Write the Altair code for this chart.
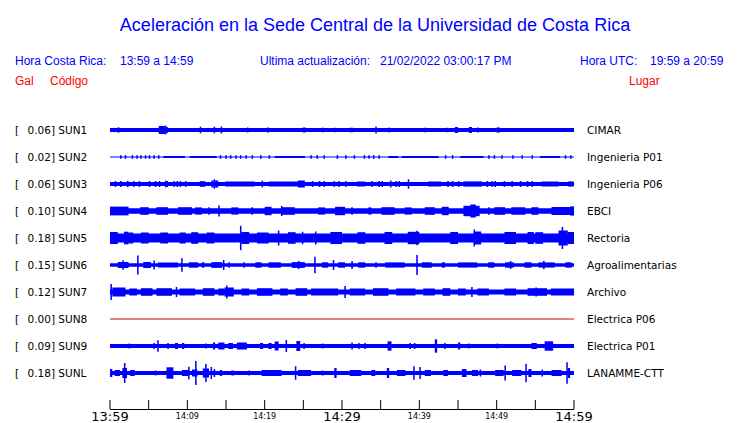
import altair as alt
import pandas as pd

# ---------------- data ----------------
codes = ["SUN1", "SUN2", "SUN3", "SUN4", "SUN5", "SUN6", "SUN7", "SUN8", "SUN9", "SUNL"]
gal = ["0.06", "0.02", "0.06", "0.10", "0.18", "0.15", "0.12", "0.00", "0.09", "0.18"]
places = ["CIMAR", "Ingenieria P01", "Ingenieria P06", "EBCI", "Rectoria",
          "Agroalimentarias", "Archivo", "Electrica P06", "Electrica P01", "LANAMME-CTT"]
# background noise half-amplitude of each trace (display units)
noise = [2.0, 0.5, 2.0, 2.8, 4.5, 1.8, 2.4, 0.5, 2.0, 2.0]
trace_color = ["#0000ff"] * 7 + ["#d00000"] + ["#0000ff"] * 2

# bursts: (start minute, end minute, half-amplitude)
sun1 = [(1.0, 1.2, 2.8), (6.3, 7.0, 4.0), (7.0, 7.3, 4.3), (7.3, 7.5, 3.0), (11.6, 11.8, 3.3),
        (13.4, 13.6, 3.3), (14.3, 14.5, 3.5), (17.7, 17.9, 2.5), (20.3, 20.5, 2.6), (24.9, 25.3, 2.5),
        (27.4, 27.6, 2.4), (29.0, 29.2, 2.3), (31.0, 31.4, 2.3), (34.3, 34.5, 3.6), (36.0, 36.2, 2.4),
        (40.7, 40.9, 2.4), (43.5, 43.7, 2.3), (44.6, 45.0, 3.0), (46.4, 46.8, 3.0), (47.5, 47.7, 2.4),
        (50.0, 50.4, 2.6)]
sun2 = [(1.3, 1.5, 1.8), (1.9, 2.1, 1.8), (2.8, 3.0, 1.8), (3.4, 3.6, 1.8), (3.9, 4.1, 1.8),
        (4.5, 4.7, 1.8), (5.0, 5.2, 1.8), (5.6, 5.8, 1.8), (6.2, 6.4, 1.8), (6.9, 9.7, 1.0),
        (10.3, 13.8, 1.0), (14.2, 14.4, 1.8), (14.9, 15.1, 1.8), (15.5, 15.7, 1.8), (16.2, 16.4, 1.8),
        (16.8, 17.0, 1.8), (17.5, 17.7, 1.8), (18.3, 18.5, 1.8), (19.4, 19.6, 1.8), (20.5, 20.7, 1.8),
        (21.3, 25.2, 1.0), (25.9, 26.1, 1.8), (26.7, 26.9, 1.8), (27.6, 27.8, 1.8), (29.3, 29.5, 1.8),
        (30.4, 30.6, 1.8), (31.5, 31.7, 1.8), (32.8, 33.0, 1.8), (33.4, 33.6, 1.8), (34.0, 34.2, 1.8),
        (34.7, 34.9, 1.8), (36.0, 37.3, 1.0), (37.7, 42.5, 1.0), (43.3, 43.5, 1.8), (44.2, 44.4, 1.8),
        (45.3, 48.3, 1.0), (48.9, 49.1, 1.8), (49.6, 49.8, 1.8), (50.6, 50.8, 1.8), (52.0, 52.2, 1.8),
        (53.2, 53.4, 1.8), (54.5, 54.7, 1.8), (55.6, 58.2, 1.0), (58.8, 59.0, 1.8), (59.5, 59.7, 1.8)]
sun3 = [(0.6, 0.8, 3.0), (1.3, 1.5, 3.0), (2.2, 2.4, 3.3), (3.0, 3.2, 3.0), (3.7, 3.9, 3.0),
        (5.0, 5.2, 3.0), (5.8, 6.0, 3.0), (6.3, 6.5, 3.0), (7.1, 7.3, 3.5), (7.3, 7.5, 3.0),
        (8.2, 8.4, 3.0), (8.6, 8.8, 3.0), (9.0, 9.2, 3.0), (9.7, 9.9, 3.0), (11.6, 12.3, 2.8),
        (13.1, 13.4, 3.5), (13.4, 13.6, 4.7), (13.6, 14.0, 3.5), (14.9, 18.7, 2.5), (19.6, 19.8, 3.3),
        (20.5, 25.2, 2.5), (24.3, 25.2, 3.5), (26.1, 26.3, 3.0), (27.0, 27.2, 3.0), (27.6, 27.8, 3.0),
        (28.9, 29.1, 3.0), (29.5, 29.7, 3.0), (30.4, 30.6, 3.0), (31.9, 33.0, 2.5), (33.8, 34.0, 3.0),
        (34.7, 34.9, 3.0), (35.1, 35.3, 3.0), (36.2, 36.4, 3.5), (36.9, 37.1, 3.0), (37.3, 37.5, 3.0),
        (38.5, 38.7, 4.7), (41.1, 42.8, 2.5), (43.6, 43.8, 3.0), (44.2, 44.4, 3.0), (45.0, 45.2, 3.0),
        (45.7, 48.1, 2.6), (48.7, 48.9, 3.0), (49.3, 49.5, 3.0), (49.7, 49.9, 3.0), (50.9, 51.1, 3.0),
        (51.9, 52.1, 3.0), (53.0, 53.2, 3.0), (53.9, 54.1, 3.0), (54.5, 54.7, 3.0), (55.8, 58.0, 2.5),
        (59.2, 59.9, 2.6)]
sun4 = [(0.0, 2.4, 4.4), (3.9, 5.0, 3.8), (6.0, 7.5, 3.8), (8.8, 10.6, 3.8), (11.0, 11.9, 3.6),
        (12.7, 12.9, 3.8), (14.0, 14.2, 5.4), (15.7, 16.6, 3.6), (18.3, 18.5, 3.8), (20.0, 20.9, 4.2),
        (22.1, 22.3, 5.0), (22.2, 23.9, 3.8), (26.9, 27.8, 3.6), (29.1, 30.4, 4.2), (31.2, 31.4, 3.8),
        (33.4, 33.8, 3.6), (35.1, 36.8, 3.8), (38.1, 39.0, 3.6), (40.7, 42.0, 3.8), (42.9, 43.8, 4.2),
        (45.7, 47.8, 5.2), (46.6, 47.3, 6.5), (48.9, 49.1, 3.8), (49.7, 51.1, 3.8), (51.9, 53.7, 3.8),
        (54.5, 55.4, 3.8), (57.1, 59.7, 4.0), (59.5, 60.0, 4.6)]
sun5 = [(0.0, 1.0, 6.0), (1.8, 2.4, 6.3), (2.4, 3.0, 5.5), (4.0, 5.0, 5.5), (6.5, 7.5, 5.5),
        (9.0, 9.8, 5.5), (10.5, 11.4, 5.8), (12.5, 13.5, 5.5), (16.8, 17.0, 12.2), (17.0, 18.0, 6.0),
        (19.0, 20.5, 5.5), (21.7, 21.9, 7.5), (23.0, 24.0, 5.8), (24.8, 25.0, 6.2), (26.5, 26.7, 6.5),
        (28.5, 30.0, 6.0), (32.0, 33.0, 5.8), (35.5, 36.5, 6.0), (38.5, 40.0, 6.2), (39.6, 39.8, 7.2),
        (44.0, 45.0, 6.0), (47.0, 47.2, 8.5), (47.2, 48.0, 6.5), (51.0, 52.5, 6.0), (54.0, 54.8, 6.0),
        (55.0, 56.0, 5.8), (58.0, 59.2, 7.5), (58.4, 58.6, 11.0), (59.2, 60.0, 6.0)]
sun6 = [(1.0, 2.4, 3.0), (1.6, 1.8, 4.7), (3.5, 3.7, 9.5), (4.3, 5.3, 3.0), (5.6, 5.8, 4.5),
        (6.2, 8.8, 2.6), (9.2, 9.4, 6.7), (10.2, 11.4, 2.7), (11.9, 12.2, 2.7), (13.1, 14.5, 2.9),
        (14.6, 14.8, 5.0), (15.3, 15.5, 2.7), (17.2, 17.4, 2.7), (18.8, 19.6, 2.7), (20.5, 22.1, 2.7),
        (23.5, 25.2, 2.9), (24.3, 24.5, 4.0), (26.4, 26.6, 8.3), (27.4, 28.2, 2.7), (28.8, 29.0, 5.0),
        (29.5, 30.4, 2.7), (31.2, 31.4, 4.0), (32.1, 33.0, 2.7), (34.3, 34.5, 2.7), (35.6, 38.1, 2.6),
        (39.6, 39.8, 10.0), (40.3, 41.6, 2.7), (42.9, 43.3, 2.7), (45.0, 47.5, 2.6), (48.9, 49.7, 2.7),
        (51.1, 52.2, 2.7), (51.7, 51.9, 4.0), (53.6, 54.5, 2.7), (55.4, 57.5, 2.6), (56.0, 56.2, 4.3),
        (58.9, 59.7, 2.7)]
sun7 = [(0.05, 0.25, 8.0), (0.3, 2.0, 4.5), (2.5, 3.5, 3.5), (4.0, 5.5, 3.8), (6.0, 8.0, 3.8),
        (8.5, 8.7, 5.0), (9.0, 11.0, 3.5), (12.0, 13.5, 3.8), (14.0, 14.8, 3.5), (14.8, 16.0, 4.5),
        (15.0, 15.2, 6.5), (17.0, 18.0, 3.5), (19.0, 21.0, 3.8), (22.0, 23.0, 3.5), (24.0, 25.5, 3.8),
        (26.0, 29.5, 3.5), (30.3, 30.5, 6.0), (31.0, 33.0, 3.5), (34.0, 36.0, 3.8), (37.0, 39.5, 3.5),
        (40.5, 42.0, 3.5), (43.0, 44.0, 3.8), (45.0, 46.0, 3.5), (46.7, 46.9, 5.0), (47.5, 49.0, 3.5),
        (51.0, 52.5, 3.5), (54.0, 56.5, 3.8), (55.0, 55.2, 4.5), (57.0, 60.0, 3.5)]
sun8 = []
sun9 = [(2.4, 2.6, 2.5), (5.6, 5.8, 3.0), (6.1, 6.3, 5.7), (7.4, 7.6, 3.0), (8.4, 8.8, 3.0),
        (9.3, 9.6, 3.0), (12.3, 12.5, 2.5), (13.3, 13.6, 3.5), (14.0, 14.8, 3.5), (15.3, 15.9, 3.0),
        (16.4, 17.7, 3.5), (19.4, 19.8, 3.0), (20.5, 20.9, 3.0), (21.3, 21.8, 4.5), (22.7, 22.9, 6.0),
        (24.1, 24.6, 5.0), (25.0, 25.2, 3.0), (27.4, 27.6, 2.5), (31.2, 31.4, 3.5), (32.1, 32.3, 3.0),
        (32.9, 33.1, 3.0), (35.9, 36.4, 4.7), (38.7, 38.9, 3.0), (39.3, 39.5, 3.0), (42.0, 42.3, 6.7),
        (43.2, 43.4, 3.0), (45.0, 45.3, 3.5), (46.3, 46.5, 2.5), (50.0, 50.2, 2.5), (54.5, 55.2, 3.0),
        (56.2, 57.3, 4.7)]
sunl = [(0.0, 0.3, 4.0), (0.6, 1.3, 3.0), (1.6, 2.2, 5.0), (1.8, 2.0, 10.0), (2.6, 3.2, 3.0),
        (5.8, 6.0, 2.5), (7.3, 8.2, 5.7), (9.3, 10.2, 3.0), (10.1, 10.3, 6.3), (10.6, 11.3, 3.5),
        (11.0, 11.2, 12.0), (12.0, 12.8, 4.5), (12.3, 12.5, 9.0), (13.0, 13.2, 6.0), (13.4, 13.6, 4.0),
        (14.2, 14.5, 3.0), (15.7, 16.0, 2.5), (17.9, 18.1, 2.5), (19.6, 22.2, 3.0), (23.9, 24.1, 6.7),
        (24.3, 26.0, 3.0), (27.4, 27.6, 2.5), (29.0, 29.3, 5.0), (31.0, 32.5, 3.0), (33.8, 34.3, 3.0),
        (35.8, 36.1, 5.0), (37.1, 38.2, 3.0), (39.2, 39.4, 6.7), (40.0, 40.2, 6.0), (40.7, 41.5, 3.0),
        (43.1, 43.7, 3.0), (45.5, 46.1, 4.0), (46.8, 47.6, 3.0), (47.8, 48.0, 3.5), (49.8, 50.9, 3.0),
        (51.0, 51.2, 7.5), (52.0, 53.2, 3.0), (53.7, 53.9, 9.3), (54.1, 54.5, 4.0), (55.8, 56.0, 3.5),
        (57.1, 58.4, 3.0), (59.0, 59.2, 10.8), (59.2, 59.5, 5.0)]
bursts = [sun1, sun2, sun3, sun4, sun5, sun6, sun7, sun8, sun9, sunl]

tick_minutes = [0, 5, 10, 15, 20, 25, 30, 35, 40, 45, 50, 55, 60]
big_label_minutes = [0, 30, 60]
big_labels = ["13:59", "14:29", "14:59"]
small_label_minutes = [10, 20, 40, 50]
small_labels = ["14:09", "14:19", "14:39", "14:49"]

ROW = 27  # display units between traces

# ---------------- tables ----------------
rects = []
for i, code in enumerate(codes):
    c = i * ROW
    rects.append({"code": code, "t0": 0, "t1": 60, "lo": c - noise[i], "hi": c + noise[i],
                  "color": trace_color[i]})
    for (a, b, amp) in bursts[i]:
        rects.append({"code": code, "t0": a, "t1": b, "lo": c - amp, "hi": c + amp,
                      "color": trace_color[i]})
rect_df = pd.DataFrame(rects)

rows_df = pd.DataFrame({
    "center": [i * ROW for i in range(len(codes))],
    "left": [f"{g}] {c}" for g, c in zip(gal, codes)],
    "place": places,
})

xs = alt.Scale(domain=[0, 60], range=[102, 566])
ys = alt.Scale(domain=[0, 9 * ROW], range=[122, 365])

traces = alt.Chart(rect_df).mark_rect().encode(
    x=alt.X("t0:Q", scale=xs, axis=None),
    x2="t1:Q",
    y=alt.Y("lo:Q", scale=ys, axis=None),
    y2="hi:Q",
    color=alt.Color("color:N", scale=None),
)

txt_style = dict(align="left", baseline="middle", font="DejaVu Sans", fontSize=10.5,
                 color="black", dy=1)

bracket = alt.Chart(rows_df).mark_text(**txt_style).encode(
    x=alt.value(7), y=alt.Y("center:Q", scale=ys, axis=None), text=alt.value("["))

left_lab = alt.Chart(rows_df).mark_text(**txt_style).encode(
    x=alt.value(19.5), y=alt.Y("center:Q", scale=ys, axis=None), text="left:N")

right_lab = alt.Chart(rows_df).mark_text(**txt_style).encode(
    x=alt.value(579), y=alt.Y("center:Q", scale=ys, axis=None), text="place:N")

# time axis
axis_line = alt.Chart(pd.DataFrame({"t0": [0], "t1": [60]})).mark_rule(
    color="black", strokeWidth=1
).encode(x=alt.X("t0:Q", scale=xs, axis=None), x2="t1:Q", y=alt.value(401.5))

ticks = alt.Chart(pd.DataFrame({"t": tick_minutes})).mark_rule(
    color="black", strokeWidth=1
).encode(x=alt.X("t:Q", scale=xs, axis=None), y=alt.value(392), y2=alt.value(401))

big_lab = alt.Chart(pd.DataFrame({"t": big_label_minutes, "lab": big_labels})).mark_text(
    align="center", baseline="alphabetic", font="DejaVu Sans", fontSize=13, color="black"
).encode(x=alt.X("t:Q", scale=xs, axis=None), y=alt.value(413), text="lab:N")

small_lab = alt.Chart(pd.DataFrame({"t": small_label_minutes, "lab": small_labels})).mark_text(
    align="center", baseline="alphabetic", font="DejaVu Sans", fontSize=8, color="black"
).encode(x=alt.X("t:Q", scale=xs, axis=None), y=alt.value(410.5), text="lab:N")

one = pd.DataFrame({"k": [0]})


def label(txt, x, y, size, color, align="left", font="Liberation Sans"):
    return alt.Chart(one).mark_text(
        align=align, baseline="alphabetic", font=font, fontSize=size, color=color
    ).encode(x=alt.value(x), y=alt.value(y), text=alt.value(txt))


BLUE = "#0000ff"
RED = "#ff0000"
header = [
    label("Aceleración en la Sede Central de la Universidad de Costa Rica", 367, 23, 18, BLUE, "center"),
    label("Hora Costa Rica:", 7, 56.5, 12, BLUE),
    label("13:59 a 14:59", 112, 56.5, 12, BLUE),
    label("Ultima actualización:", 252, 56.5, 12, BLUE),
    label("21/02/2022 03:00:17 PM", 372, 56.5, 12, BLUE),
    label("Hora UTC:", 572, 56.5, 12, BLUE),
    label("19:59 a 20:59", 642, 56.5, 12, BLUE),
    label("Gal", 7, 76.5, 12, RED),
    label("Código", 42, 76.5, 12, RED),
    label("Lugar", 621, 76.5, 12, RED),
]

chart = alt.layer(
    traces, bracket, left_lab, right_lab, axis_line, ticks, big_lab, small_lab, *header
).properties(
    width=724, height=415, padding=0, autosize=alt.AutoSizeParams(type="none"),
    background="white",
).configure_view(stroke=None)

chart.save("out.html", embed_options={"renderer": "svg", "actions": False})
